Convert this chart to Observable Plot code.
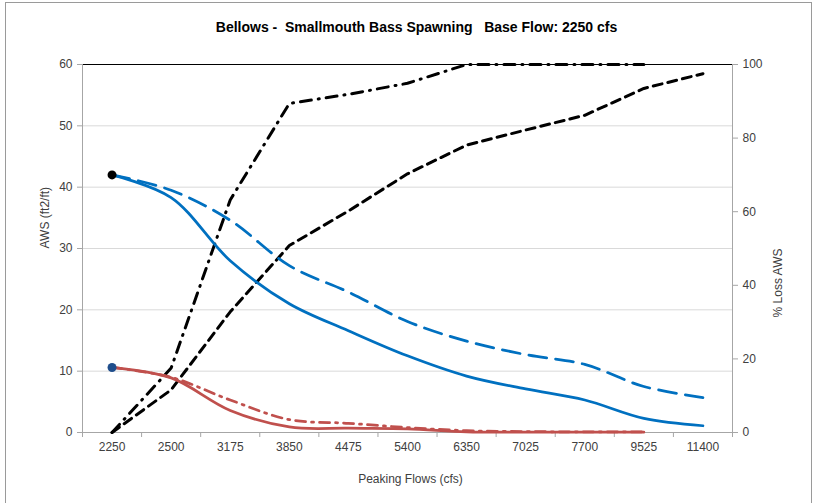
<!DOCTYPE html>
<html>
<head>
<meta charset="utf-8">
<script src="https://cdn.jsdelivr.net/npm/d3@7"></script>
<script src="https://cdn.jsdelivr.net/npm/@observablehq/plot@0.6"></script>
<style>
  html, body { margin: 0; padding: 0; background: #fff; }
  #wrap { position: relative; width: 818px; height: 503px; overflow: hidden; }
  #border { position: absolute; left: 5px; top: 2px; width: 807px; height: 520px; border: 1px solid #9a9a9a; box-sizing: border-box; pointer-events: none; }
</style>
</head>
<body>
<div id="wrap"><div id="border"></div></div>
<script>
const title = "Bellows -  Smallmouth Bass Spawning   Base Flow: 2250 cfs";
const xLabel = "Peaking Flows (cfs)";
const yLeftLabel = "AWS (ft2/ft)";
const yRightLabel = "% Loss AWS";

const categories = ["2250","2500","3175","3850","4475","5400","6350","7025","7700","9525","11400"];
const leftTicks = [0, 10, 20, 30, 40, 50, 60];
const rightTicks = [0, 20, 40, 60, 80, 100];

// AWS (left axis)
const awsSolid   = [42.0, 38.3, 28.0, 21.0, 16.6, 12.5, 9.2, 7.1, 5.3, 2.3, 1.1];
const awsDashed  = [42.0, 39.5, 34.6, 27.2, 22.9, 18.1, 14.9, 12.7, 11.1, 7.5, 5.7];
const redSolid   = [10.6, 8.9, 3.6, 0.9, 0.7, 0.6, 0.1, 0.05, 0.05, 0.05, null];
const redDashDot = [10.6, 9.0, 5.3, 2.1, 1.5, 0.8, 0.3, 0.15, 0.1, 0.1, null];
// % Loss AWS (right axis)
const lossDashed  = [0, 11.6, 32.8, 50.8, 60.2, 70.3, 78.1, 82.2, 86.2, 93.5, 97.5];
const lossDashDot = [0, 17.5, 63.2, 89.4, 91.9, 94.9, 100, 100, 100, 100, null];
// start markers
const markerHigh = [{cat: "2250", v: 42.0}];
const markerLow  = [{cat: "2250", v: 10.6}];

const leftMax = 60, rightMax = 100;
const k = leftMax / rightMax;
const idx = c => categories.indexOf(c);
const toRows = (arr, scale = 1) => arr.map((v, i) => ({x: i, y: v == null ? null : v * scale})).filter(d => d.y != null);

const boundaries = d3.range(categories.length + 1).map(i => i - 0.5);

const chart = Plot.plot({
  width: 818,
  height: 503,
  marginLeft: 82,
  marginRight: 86,
  marginTop: 64,
  marginBottom: 71,
  style: {fontFamily: "'Liberation Sans', Arial, sans-serif", fontSize: "12px", color: "#404040", background: "transparent"},
  x: {type: "linear", domain: [-0.5, categories.length - 0.5], axis: null},
  y: {domain: [0, leftMax], axis: null},
  marks: [
    Plot.ruleY(leftTicks.filter(t => t > 0 && t < leftMax), {stroke: "#d9d9d9", strokeWidth: 1}),
    Plot.ruleY([leftMax], {stroke: "#000", strokeWidth: 1}),
    Plot.ruleX([boundaries[0], boundaries[boundaries.length - 1]], {stroke: "#a6a6a6"}),
    Plot.ruleY([0], {stroke: "#a6a6a6"}),
    Plot.axisY({ticks: leftTicks, tickSize: 5, tickPadding: 5, stroke: "#a6a6a6", label: null, fill: "#404040"}),
    Plot.axisY({anchor: "right", ticks: rightTicks.map(t => t * k), tickFormat: t => Math.round(t / k), tickSize: 5, tickPadding: 5, stroke: "#a6a6a6", label: null, fill: "#404040"}),
    Plot.axisX({ticks: boundaries, tickFormat: () => "", tickSize: 5, stroke: "#a6a6a6", label: null}),
    Plot.axisX({ticks: d3.range(categories.length), tickFormat: i => categories[i], tickSize: 0, tickPadding: 10, label: null, fill: "#404040"}),

    // % loss lines (right axis, rescaled)
    Plot.line(toRows(lossDashed, k), {x: "x", y: "y", stroke: "#000", strokeWidth: 3, strokeDasharray: "9,6", strokeLinecap: "round"}),
    Plot.line(toRows(lossDashDot, k), {x: "x", y: "y", stroke: "#000", strokeWidth: 3, strokeDasharray: "11,7,1,7", strokeLinecap: "round"}),

    // AWS lines
    Plot.line(toRows(awsDashed), {x: "x", y: "y", stroke: "#0070C0", strokeWidth: 2.75, strokeDasharray: "18,9", curve: "catmull-rom"}),
    Plot.line(toRows(awsSolid), {x: "x", y: "y", stroke: "#0070C0", strokeWidth: 2.75, curve: "catmull-rom"}),
    Plot.line(toRows(redDashDot), {x: "x", y: "y", stroke: "#C0504D", strokeWidth: 2.75, strokeDasharray: "10,6,2,6", curve: "catmull-rom"}),
    Plot.line(toRows(redSolid), {x: "x", y: "y", stroke: "#C0504D", strokeWidth: 2.75, curve: "catmull-rom"}),

    Plot.dot(markerHigh, {x: d => idx(d.cat), y: "v", r: 4.5, fill: "#000", stroke: null}),
    Plot.dot(markerLow, {x: d => idx(d.cat), y: "v", r: 4.5, fill: "#1F4E8C", stroke: null}),

    // texts
    Plot.text([title], {frameAnchor: "top", dx: 9, dy: -42, fontSize: 14, fontWeight: "bold", fill: "#000"}),
    Plot.text([yLeftLabel], {frameAnchor: "left", dx: -37, rotate: -90, fontSize: 12, fill: "#404040"}),
    Plot.text([yRightLabel], {frameAnchor: "right", dx: 46, rotate: -90, fontSize: 12, fill: "#404040"}),
    Plot.text([xLabel], {frameAnchor: "bottom", dx: 3, dy: 50, fontSize: 12, fill: "#404040"})
  ]
});
chart.style.position = "absolute";
chart.style.left = "0px";
chart.style.top = "0px";
document.getElementById("wrap").appendChild(chart);
</script>
</body>
</html>
